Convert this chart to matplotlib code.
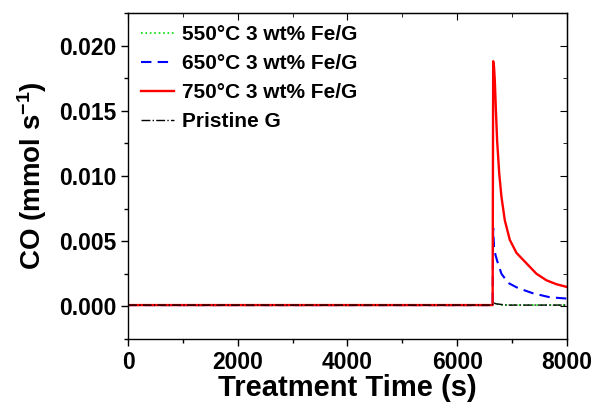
import matplotlib
matplotlib.use("Agg")
import matplotlib.pyplot as plt
from matplotlib.ticker import MultipleLocator

plt.rcParams['font.family'] = ['Liberation Sans', 'DejaVu Sans']
plt.rcParams['font.weight'] = 'bold'
plt.rcParams['mathtext.fontset'] = 'custom'
plt.rcParams['mathtext.rm'] = 'Liberation Sans:bold'
plt.rcParams['mathtext.bf'] = 'Liberation Sans:bold'
plt.rcParams['mathtext.default'] = 'bf'

# data
t_550 = [0, 6640, 6655, 6700, 6800, 7000, 7500, 8000]
co_550 = [0.0001, 0.0001, 0.0003, 0.0002, 0.0001, 0.0001, 0.0001, 0.0001]

t_650 = [0, 6645, 6655, 6670, 6700, 6727, 6806, 6928, 7110, 7383, 7687, 7990, 8000]
co_650 = [0.0001, 0.0001, 0.0060, 0.0045, 0.0039, 0.0035, 0.0025, 0.0018, 0.0014, 0.0010, 0.0007, 0.0006, 0.0006]

t_750 = [0, 6645, 6655, 6670, 6685, 6705, 6727, 6765, 6806, 6867, 6958, 7080, 7262, 7444, 7626, 7808, 7990, 8000]
co_750 = [0.0001, 0.0001, 0.0188, 0.0184, 0.0173, 0.0150, 0.0127, 0.0102, 0.0084, 0.0066, 0.0051, 0.0041,
          0.0033, 0.0025, 0.0020, 0.0017, 0.0015, 0.0015]

t_pristine = [0, 6640, 6660, 6700, 6900, 7500, 8000]
co_pristine = [0.0001, 0.0001, 0.0003, 0.0002, 0.0001, 0.0001, 0.0001]

labels = ['550\u00b0C 3 wt% Fe/G', '650\u00b0C 3 wt% Fe/G', '750\u00b0C 3 wt% Fe/G', 'Pristine G']

fig = plt.figure(figsize=(5.96, 4.05), dpi=100)
ax = fig.add_axes([0.2148, 0.163, 0.7365, 0.805])

ax.plot(t_550, co_550, color='#00e000', linestyle=':', lw=1.2, label=labels[0])
ax.plot(t_650, co_650, color='#0000ff', linestyle=(0, (5, 3)), lw=1.5, label=labels[1])
ax.plot(t_750, co_750, color='#ff0000', linestyle='-', lw=1.7, label=labels[2])
ax.plot(t_pristine, co_pristine, color='black', linestyle='-.', lw=1.0, label=labels[3])

ax.set_xlim(0, 8000)
ax.set_ylim(-0.0025, 0.0225)
ax.xaxis.set_major_locator(MultipleLocator(2000))
ax.xaxis.set_minor_locator(MultipleLocator(1000))
ax.yaxis.set_major_locator(MultipleLocator(0.005))
ax.yaxis.set_minor_locator(MultipleLocator(0.0025))
ax.yaxis.set_major_formatter(matplotlib.ticker.FormatStrFormatter('%.3f'))

ax.tick_params(which='major', direction='out', length=5, width=1, labelsize=16.5)
ax.tick_params(which='minor', direction='out', length=3, width=1)
for lab in ax.get_xticklabels() + ax.get_yticklabels():
    lab.set_fontweight('bold')

# inward ticks on top and right
top = ax.secondary_xaxis('top')
top.xaxis.set_major_locator(MultipleLocator(2000))
top.xaxis.set_minor_locator(MultipleLocator(1000))
top.tick_params(which='both', direction='in', labeltop=False)
top.tick_params(which='major', length=5)
top.tick_params(which='minor', length=3)
right = ax.secondary_yaxis('right')
right.yaxis.set_major_locator(MultipleLocator(0.005))
right.yaxis.set_minor_locator(MultipleLocator(0.0025))
right.tick_params(which='both', direction='in', labelright=False)
right.tick_params(which='major', length=5)
right.tick_params(which='minor', length=3)

for sp in ax.spines.values():
    sp.set_linewidth(1.0)

ax.set_xlabel('Treatment Time (s)', fontsize=21, fontweight='bold', labelpad=0)
ax.set_ylabel('CO (mmol s$^{-1}$)', fontsize=20, fontweight='bold', labelpad=7)

ax.legend(loc='upper left', frameon=False, handlelength=1.6,
          handletextpad=0.4, labelspacing=0.48, borderaxespad=0.2,
          prop={'weight': 'bold', 'size': 15})

fig.savefig('out.png', dpi=100)
